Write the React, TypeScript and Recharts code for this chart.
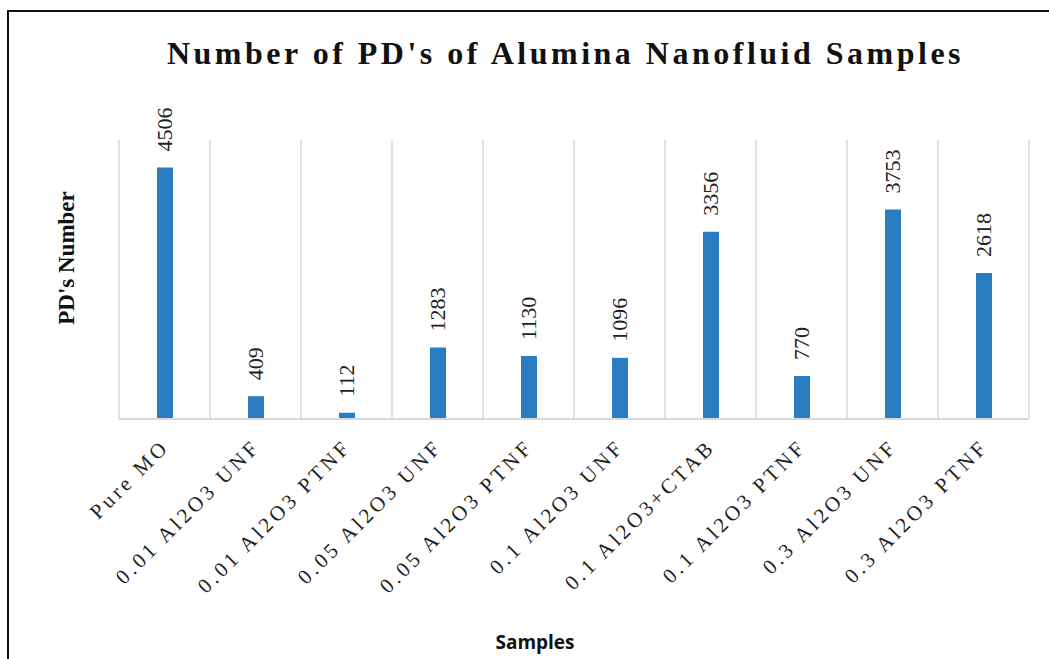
import { BarChart, Bar, XAxis, YAxis, CartesianGrid, LabelList } from 'recharts';

const samples = [
  'Pure MO',
  '0.01 Al2O3 UNF',
  '0.01 Al2O3 PTNF',
  '0.05 Al2O3 UNF',
  '0.05 Al2O3 PTNF',
  '0.1 Al2O3 UNF',
  '0.1 Al2O3+CTAB',
  '0.1 Al2O3 PTNF',
  '0.3 Al2O3 UNF',
  '0.3 Al2O3 PTNF',
];
const pdCounts = [4506, 409, 112, 1283, 1130, 1096, 3356, 770, 3753, 2618];

const data = samples.map((name, i) => ({ name, value: pdCounts[i] }));

const serif = '"Liberation Serif", "Times New Roman", serif';

function CategoryTick(props: any) {
  const { x, y, payload } = props;
  const ax = x + 6;
  const ay = y + 21;
  return (
    <text
      x={ax}
      y={ay}
      transform={`rotate(-45, ${ax}, ${ay})`}
      textAnchor="end"
      style={{ fontFamily: serif }}
      fontSize={21}
      letterSpacing={3.5}
      fill="#222"
    >
      {payload.value}
    </text>
  );
}

function ValueLabel(props: any) {
  const { x, y, width, value } = props;
  const cx = x + width / 2;
  const ty = y - 16;
  return (
    <text
      x={cx}
      y={ty}
      transform={`rotate(-90, ${cx}, ${ty})`}
      textAnchor="start"
      dominantBaseline="central"
      style={{ fontFamily: serif }}
      fontSize={22}
      fill="#222"
    >
      {value}
    </text>
  );
}

export default function App() {
  return (
    <div style={{ position: 'absolute', left: 0, top: 0, width: 1049, height: 659, overflow: 'hidden', background: '#fff' }}>
      <div
        style={{
          position: 'absolute',
          left: 7,
          top: 10,
          width: 1200,
          height: 800,
          borderLeft: '2.5px solid #111',
          borderTop: '2.5px solid #111',
        }}
      />
      <div
        style={{
          position: 'absolute',
          left: 0,
          width: 1131,
          top: 35,
          textAlign: 'center',
          fontFamily: serif,
          fontWeight: 'bold',
          fontSize: 32,
          letterSpacing: 3.5,
          color: '#111',
          whiteSpace: 'nowrap',
        }}
      >
        Number of PD's of Alumina Nanofluid Samples
      </div>
      <div
        style={{
          position: 'absolute',
          left: 67,
          top: 258,
          transform: 'translate(-50%, -50%) rotate(-90deg)',
          fontFamily: serif,
          fontWeight: 'bold',
          fontSize: 23,
          color: '#111',
          whiteSpace: 'nowrap',
        }}
      >
        PD's Number
      </div>
      <div
        style={{
          position: 'absolute',
          left: 535,
          top: 642,
          transform: 'translate(-50%, -50%)',
          fontFamily: '"Open Sans", sans-serif',
          fontWeight: 'bold',
          fontSize: 19,
          color: '#111',
          whiteSpace: 'nowrap',
        }}
      >
        Samples
      </div>
      <div style={{ position: 'absolute', left: 0, top: 0 }}>
        <BarChart width={1049} height={659} data={data} margin={{ top: 140, right: 20, bottom: 210, left: 119 }}>
          <CartesianGrid
            horizontal={false}
            stroke="#d9d9d9"
            strokeWidth={1.5}
            verticalCoordinatesGenerator={({ offset }: any) =>
              samples.concat(['']).map((_, i) => offset.left + (i * offset.width) / samples.length)
            }
          />
          <XAxis
            dataKey="name"
            interval={0}
            height={30}
            tickLine={false}
            axisLine={{ stroke: '#d9d9d9', strokeWidth: 2 }}
            tick={<CategoryTick />}
          />
          <YAxis hide domain={[0, 5000]} />
          <Bar dataKey="value" fill="#2A7DC1" barSize={16} isAnimationActive={false}>
            <LabelList dataKey="value" content={<ValueLabel />} />
          </Bar>
        </BarChart>
      </div>
    </div>
  );
}
